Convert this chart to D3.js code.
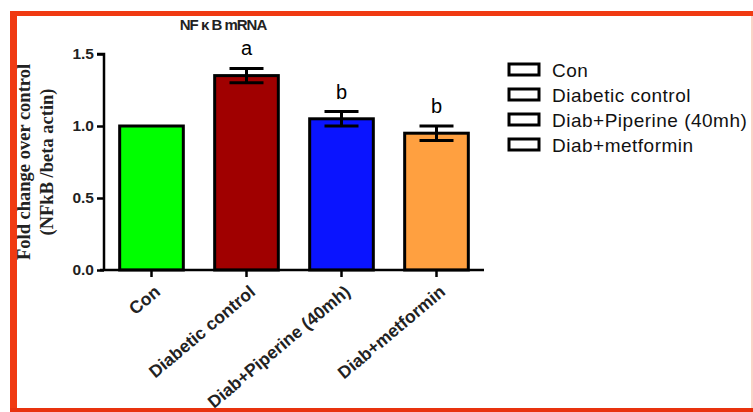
<!DOCTYPE html>
<html>
<head>
<meta charset="utf-8">
<script src="https://cdn.jsdelivr.net/npm/d3@7"></script>
<style>
  body { margin: 0; background: #fff; }
  svg { display: block; }
</style>
</head>
<body>
<div id="chart"></div>
<script>
const groups = ["Con", "Diabetic control", "Diab+Piperine (40mh)", "Diab+metformin"];
const means = [1.0, 1.35, 1.05, 0.95];
const errors = [0, 0.05, 0.05, 0.05];
const letters = ["", "a", "b", "b"];
const colors = ["#00ff00", "#a00000", "#0a14ff", "#ffa040"];
const yTicks = [0.0, 0.5, 1.0, 1.5];

const width = 753, height = 412;
const svg = d3.select("#chart").append("svg")
    .attr("width", width)
    .attr("height", height);

// frame
svg.append("rect").attr("x", 0).attr("y", 0).attr("width", width).attr("height", height).attr("fill", "#fff");
svg.append("rect").attr("x", 10).attr("y", 11).attr("width", 7).attr("height", 401).attr("fill", "#f03a12");
svg.append("rect").attr("x", 10).attr("y", 11).attr("width", 743).attr("height", 5).attr("fill", "#f03a12");
svg.append("rect").attr("x", 10).attr("y", 408).attr("width", 743).attr("height", 4).attr("fill", "#e8320e");
svg.append("rect").attr("x", 751).attr("y", 16).attr("width", 2).attr("height", 392).attr("fill", "#fbd3c6");

const x = d3.scaleBand()
    .domain(groups)
    .range([104, 484])
    .paddingInner(0.33)
    .paddingOuter(0.165);

const y = d3.scaleLinear()
    .domain([0, 1.5])
    .range([270, 54]);

// bars
svg.append("g").selectAll("rect")
    .data(groups)
    .join("rect")
    .attr("x", d => x(d))
    .attr("y", (d, i) => y(means[i]))
    .attr("width", x.bandwidth())
    .attr("height", (d, i) => y(0) - y(means[i]))
    .attr("fill", (d, i) => colors[i])
    .attr("stroke", "#000")
    .attr("stroke-width", 3);

// error bars
const err = svg.append("g").attr("stroke", "#000").attr("stroke-width", 3);
groups.forEach((g, i) => {
    if (!errors[i]) return;
    const cx = x(g) + x.bandwidth() / 2;
    const hi = y(means[i] + errors[i]), lo = y(means[i] - errors[i]);
    err.append("line").attr("x1", cx).attr("x2", cx).attr("y1", hi).attr("y2", lo);
    err.append("line").attr("x1", cx - 17).attr("x2", cx + 17).attr("y1", hi).attr("y2", hi);
    err.append("line").attr("x1", cx - 17).attr("x2", cx + 17).attr("y1", lo).attr("y2", lo);
});

// significance letters
svg.append("g").selectAll("text")
    .data(groups)
    .join("text")
    .attr("x", d => x(d) + x.bandwidth() / 2)
    .attr("y", (d, i) => y(means[i] + errors[i]) - 13)
    .attr("text-anchor", "middle")
    .attr("font-family", "Liberation Sans, Arial, sans-serif")
    .attr("font-size", 20)
    .text((d, i) => letters[i]);

// y axis
const yAxis = svg.append("g")
    .attr("transform", "translate(104,0)")
    .call(d3.axisLeft(y).tickValues(yTicks).tickFormat(d3.format(".1f")).tickSize(7).tickPadding(3));
yAxis.select(".domain").attr("stroke-width", 2.5).attr("d", "M-7,54H0V270");
yAxis.selectAll(".tick line").attr("stroke-width", 2.5);
yAxis.selectAll(".tick text")
    .attr("font-family", "Liberation Sans, Arial, sans-serif")
    .attr("font-size", 15.5)
    .attr("font-weight", "bold")
    .attr("fill", "#222");

// x axis
const xAxis = svg.append("g")
    .attr("transform", "translate(0,270)")
    .call(d3.axisBottom(x).tickSize(7).tickSizeOuter(0));
xAxis.select(".domain").attr("stroke-width", 2.5).attr("d", "M100,0H484");
xAxis.selectAll(".tick line").attr("stroke-width", 2.5);
xAxis.selectAll(".tick text")
    .attr("font-family", "Liberation Sans, Arial, sans-serif")
    .attr("font-size", 17.5)
    .attr("font-weight", "bold")
    .attr("fill", "#222")
    .attr("text-anchor", "end")
    .attr("x", 0)
    .attr("y", 0)
    .attr("dy", "0.35em")
    .attr("transform", "translate(6,19) rotate(-40)");

// y label
const ylab = svg.append("text")
    .attr("transform", "translate(0,162) rotate(-90)")
    .attr("text-anchor", "middle")
    .attr("font-family", "Liberation Serif, Times New Roman, serif")
    .attr("font-size", 18.5)
    .attr("font-weight", "bold")
    .attr("fill", "#222");
ylab.append("tspan").attr("x", 0).attr("y", 30).text("Fold change over control");
ylab.append("tspan").attr("x", 0).attr("y", 53).text("(NFkB /beta actin)");

// title
svg.append("text")
    .attr("x", 223)
    .attr("y", 30)
    .attr("text-anchor", "middle")
    .attr("font-family", "Liberation Sans, Arial, sans-serif")
    .attr("font-size", 15)
    .attr("font-weight", "bold")
    .attr("letter-spacing", -1)
    .attr("fill", "#222")
    .text("NF κ B mRNA");

// legend
const legend = svg.append("g").selectAll("g")
    .data(groups)
    .join("g")
    .attr("transform", (d, i) => `translate(509,${64 + i * 25})`);
legend.append("rect")
    .attr("width", 30).attr("height", 11)
    .attr("fill", "#fff").attr("stroke", "#000").attr("stroke-width", 3);
legend.append("text")
    .attr("x", 43).attr("y", 6)
    .attr("dy", "0.35em")
    .attr("font-family", "Liberation Sans, Arial, sans-serif")
    .attr("font-size", 19)
    .attr("letter-spacing", 0.5)
    .attr("fill", "#111")
    .text(d => d);
</script>
</body>
</html>
